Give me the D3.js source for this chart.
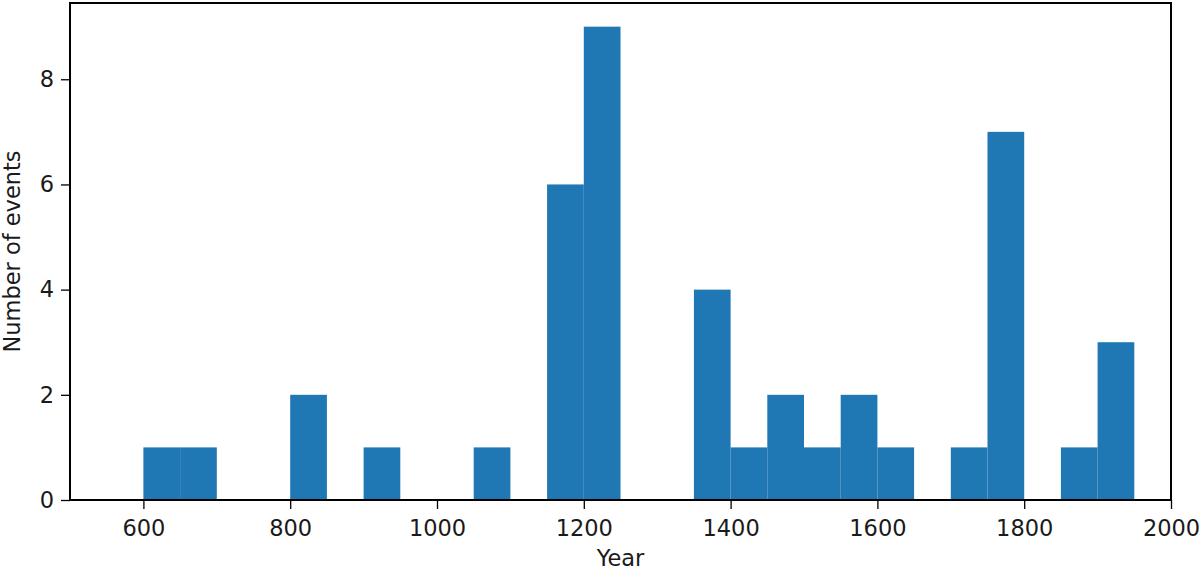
<!DOCTYPE html>
<html><head><meta charset="utf-8">
<script src="https://cdn.jsdelivr.net/npm/d3@7"></script>
<style>body{margin:0;background:#fff}svg{display:block}text{font-family:"DejaVu Sans",sans-serif}</style>
</head><body>
<svg id="c" width="1200" height="570"></svg>
<script>
const binStarts = [600,650,700,750,800,850,900,950,1000,1050,1100,1150,1200,1250,1300,1350,1400,1450,1500,1550,1600,1650,1700,1750,1800,1850,1900];
const counts    = [1,1,0,0,2,0,1,0,0,1,0,6,9,0,0,4,1,2,1,2,1,0,1,7,0,1,3];
const binWidth = 50;
const xTicks = [600,800,1000,1200,1400,1600,1800,2000];
const yTicks = [0,2,4,6,8];

const svg = d3.select("#c");
const L=70, R=1171, T=3, B=500;
const FS = 22.5;
const x = d3.scaleLinear().domain([500,2000]).range([L,R]);
const y = d3.scaleLinear().domain([0,9.45]).range([B,T]);

svg.append("g").selectAll("rect").data(binStarts.map((s,i)=>({s,c:counts[i]})).filter(d=>d.c>0))
  .join("rect")
  .attr("x",d=>x(d.s)).attr("width",d=>x(d.s+binWidth)-x(d.s))
  .attr("y",d=>y(d.c)).attr("height",d=>y(0)-y(d.c))
  .attr("fill","#1f77b4");

const xa = svg.append("g").attr("transform",`translate(0,${B})`)
  .call(d3.axisBottom(x).tickValues(xTicks).tickSize(9).tickPadding(11).tickFormat(d3.format("d")));
const ya = svg.append("g").attr("transform",`translate(${L},0)`)
  .call(d3.axisLeft(y).tickValues(yTicks).tickSize(9).tickPadding(7).tickFormat(d3.format("d")));
[xa,ya].forEach(a=>{a.select(".domain").remove();a.selectAll("line").attr("stroke","#000").attr("stroke-width",1.3);a.selectAll("text").attr("font-size",FS).attr("fill","#1a1a1a").attr("font-family","DejaVu Sans");});

svg.append("rect").attr("x",L).attr("y",T).attr("width",R-L).attr("height",B-T)
  .attr("fill","none").attr("stroke","#000").attr("stroke-width",2);

svg.append("text").attr("x",(L+R)/2).attr("y",566).attr("text-anchor","middle").attr("font-size",FS).attr("fill","#1a1a1a").text("Year");
svg.append("text").attr("transform",`translate(20,${(T+B)/2}) rotate(-90)`).attr("text-anchor","middle").attr("font-size",FS).attr("fill","#1a1a1a").text("Number of events");
</script>
</body></html>
